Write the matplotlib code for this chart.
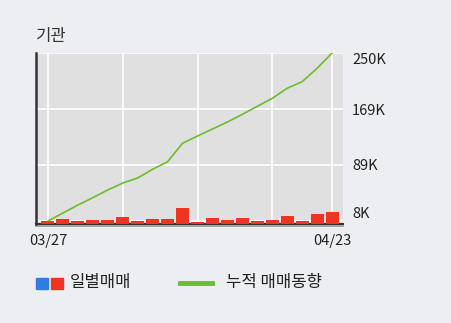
import matplotlib
matplotlib.use("Agg")
import matplotlib.pyplot as plt
from matplotlib.patches import Rectangle
from matplotlib.lines import Line2D
from matplotlib.transforms import blended_transform_factory

plt.rcParams['font.family'] = ['Noto Sans CJK KR', 'DejaVu Sans']

# data
dates = ["03/27", "03/28", "03/29", "03/30", "04/02", "04/03", "04/04",
         "04/05", "04/06", "04/09", "04/10", "04/11", "04/12", "04/13",
         "04/16", "04/17", "04/18", "04/19", "04/20", "04/23"]
daily = [3, 5, 3, 4, 4, 7, 3, 5, 5, 16, 2, 6, 4, 6, 3, 4, 8, 3, 10, 12]
cumulative = [8, 19.5, 31, 41.6, 52.7, 62.7, 70, 82.5, 93.4, 120,
              130.4, 140.5, 150.6, 161.7, 173.2, 184.7, 199.2, 208.7, 228, 250]
y_ticks = [8, 89, 169, 250]
y_labels = ["8K", "89K", "169K", "250K"]
x_label_idx = [0, 19]
grid_idx = [0, 5, 10, 15, 19]

BG = "#eceef2"
PLOT_BG = "#e0e0e0"
RED = "#ee3423"
BLUE = "#2f7de1"
GREEN = "#6cbd2b"

fig = plt.figure(figsize=(4.51, 3.23), dpi=100, facecolor=BG)
ax_bar = fig.add_axes([36 / 451, 1 - 224 / 323, 307 / 451, 171 / 323])
ax_line = ax_bar.twinx()

x = list(range(len(dates)))
ax_bar.set_facecolor(PLOT_BG)
ax_bar.set_xlim(-0.8, 19.73)
ax_bar.set_ylim(0, 171)
ax_line.set_ylim(3.7, 250)

# grid under the bars
for i in grid_idx:
    ax_bar.axvline(i, color="white", lw=1.2, zorder=1)
trans = blended_transform_factory(ax_bar.transAxes, ax_line.transData)
for v in y_ticks:
    ax_bar.add_line(Line2D([0, 1], [v, v], transform=trans, color="white",
                           lw=1.2, zorder=1))

ax_bar.bar(x, daily, width=0.87, color=RED, zorder=3)
ax_line.plot(x, cumulative, color=GREEN, lw=1.2, zorder=4)

for s in ["top", "right"]:
    ax_bar.spines[s].set_visible(False)
for s in ax_line.spines.values():
    s.set_visible(False)
ax_bar.spines["left"].set_color("#333333")
ax_bar.spines["left"].set_linewidth(1.8)
ax_bar.spines["bottom"].set_color("#333333")
ax_bar.spines["bottom"].set_linewidth(1.5)
ax_bar.spines["bottom"].set_zorder(2)
ax_bar.add_line(Line2D([0, 1], [-0.012, -0.012], transform=ax_bar.transAxes,
                       color="#999999", lw=1.2, clip_on=False))

ax_bar.set_yticks([])
ax_bar.set_xticks([x_label_idx[0], x_label_idx[1]])
ax_bar.set_xticklabels([dates[i] for i in x_label_idx], fontsize=10.5,
                       color="#222222")
ax_bar.tick_params(axis="x", length=0, pad=7)

ax_line.set_yticks(y_ticks)
ax_line.set_yticklabels(y_labels, fontsize=10.5, color="#222222")
ax_line.tick_params(axis="y", length=0, pad=6.5)
lbls = ax_line.get_yticklabels()
lbls[0].set_verticalalignment("bottom")
lbls[-1].set_verticalalignment("top")

fig.text(36 / 451, 1 - 37 / 323, "기관", fontsize=12, color="#333333",
         va="center", ha="left")

# legend
fig.add_artist(Rectangle((36 / 451, 1 - 289 / 323), 12 / 451, 11 / 323,
                         transform=fig.transFigure, color=BLUE))
fig.add_artist(Rectangle((51 / 451, 1 - 289 / 323), 12 / 451, 11 / 323,
                         transform=fig.transFigure, color=RED))
fig.text(70 / 451, 1 - 283 / 323, "일별매매", fontsize=12, color="#222222",
         va="center", ha="left")
fig.add_artist(Line2D([180 / 451, 212 / 451], [1 - 283 / 323, 1 - 283 / 323],
                      transform=fig.transFigure, color=GREEN, lw=3.5))
fig.text(226 / 451, 1 - 283 / 323, "누적 매매동향", fontsize=12,
         color="#222222", va="center", ha="left")

fig.savefig("out.png", dpi=100, facecolor=BG)
